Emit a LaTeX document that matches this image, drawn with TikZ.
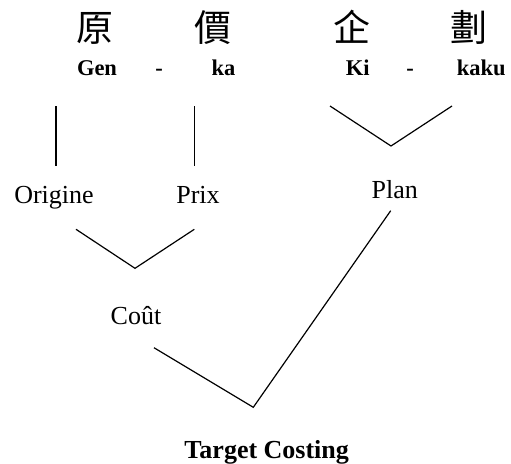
\documentclass[tikz,border=0pt]{standalone}
\usepackage{fontspec}
\setmainfont{Liberation Serif}
\newfontfamily\cjk{Noto Sans CJK TC}
\begin{document}
\begin{tikzpicture}[x=1pt,y=-1pt,
  kanji/.style={anchor=base,inner sep=0pt,font=\cjk\fontsize{37}{40}\selectfont},
  roma/.style={anchor=base,inner sep=0pt,font=\bfseries\fontsize{22.5}{26}\selectfont},
  word/.style={anchor=base,inner sep=0pt,font=\fontsize{26}{30}\selectfont},
  title/.style={anchor=base,inner sep=0pt,font=\bfseries\fontsize{26}{30}\selectfont},
  link/.style={draw=black,line width=1.2pt,line join=miter}]
\useasboundingbox (0,0) rectangle (511,463);
% kanji
\node[kanji] (k1) at (95,41.5) {原};
\node[kanji] (k2) at (212.5,41.5) {價};
\node[kanji] (k3) at (351.5,41.5) {企};
\node[kanji] (k4) at (469,41.5) {劃};
% romanisation
\node[roma] (r1) at (97,75) {Gen};
\node[roma] (d1) at (159,75) {-};
\node[roma] (r2) at (223.5,75) {ka};
\node[roma] (r3) at (357.7,75) {Ki};
\node[roma] (d2) at (410,75) {-};
\node[roma] (r4) at (481.3,75) {kaku};
% words
\node[word] (origine) at (54,203) {Origine};
\node[word] (prix) at (198,203) {Prix};
\node[word] (plan) at (394.7,198.3) {Plan};
\node[word] (cout) at (136,324.3) {Coût};
\node[title] (tc) at (266.7,458) {Target Costing};
% connector points
\coordinate (a1) at (56,106);
\coordinate (a2) at (56,166);
\coordinate (b1) at (194.3,106);
\coordinate (b2) at (194.3,166);
\coordinate (c1) at (330,106);
\coordinate (c2) at (391,146);
\coordinate (c3) at (452,106);
\coordinate (m1) at (76,229.3);
\coordinate (m2) at (135,268.3);
\coordinate (m3) at (194.3,229.3);
\coordinate (p1) at (154,347.7);
\coordinate (p2) at (253.3,407.3);
\coordinate (p3) at (390.7,210.7);
\draw[link] (a1) -- (a2);
\draw[link] (b1) -- (b2);
\draw[link] (c1) -- (c2) -- (c3);
\draw[link] (m1) -- (m2) -- (m3);
\draw[link] (p1) -- (p2) -- (p3);
\end{tikzpicture}
\end{document}
